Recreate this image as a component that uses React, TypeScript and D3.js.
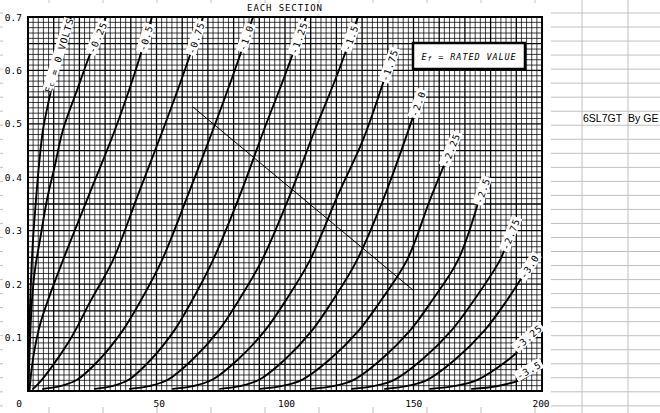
import React from 'react';
import * as d3 from 'd3';

// ---------- data (plate volts, plate mA) ----------
const xTickValues = [50, 100, 150, 200];
const yTickValues = [0.1, 0.2, 0.3, 0.4, 0.5, 0.6, 0.7];
const cornerLabel = '0';

const ec0: [number, number][] = [[0, 0], [0.19, 0.058], [0.58, 0.133], [1.17, 0.208], [1.95, 0.283], [3.11, 0.358], [4.28, 0.423], [5.84, 0.489], [8.17, 0.545], [10.89, 0.601], [13.62, 0.651], [16.73, 0.7]];
const ec025: [number, number][] = [[0.19, 0], [0.39, 0.039], [0.78, 0.096], [1.56, 0.17], [2.72, 0.227], [4.67, 0.283], [7.39, 0.358], [10.51, 0.423], [13.62, 0.489], [19.07, 0.563], [24.51, 0.635], [30.35, 0.7]];
const ec050: [number, number][] = [[0.58, 0], [1.36, 0.039], [2.53, 0.077], [4.67, 0.124], [7.78, 0.17], [13.62, 0.245], [23.74, 0.367], [33.85, 0.489], [41.25, 0.591], [48.25, 0.7]];
const ec075: [number, number][] = [[1.95, 0.004], [3.89, 0.013], [6.23, 0.026], [16.34, 0.096], [24.51, 0.17], [33.07, 0.245], [42.8, 0.367], [52.53, 0.489], [60.31, 0.591], [68.09, 0.7]];
const ec100: [number, number][] = [[5.84, 0.004], [12.45, 0.009], [19.07, 0.021], [27.63, 0.058], [36.96, 0.114], [43.97, 0.17], [52.14, 0.245], [62.26, 0.367], [71.98, 0.489], [79.77, 0.591], [87.55, 0.7]];
const ec125: [number, number][] = [[26.07, 0.004], [32.65, 0.009], [39.18, 0.021], [47.67, 0.058], [57.0, 0.114], [63.89, 0.17], [71.98, 0.245], [82.49, 0.367], [91.83, 0.489], [100.0, 0.591], [108.17, 0.7]];
const ec150: [number, number][] = [[39.69, 0.004], [47.04, 0.009], [54.4, 0.021], [63.81, 0.058], [74.32, 0.114], [82.02, 0.17], [91.05, 0.245], [101.95, 0.367], [111.67, 0.489], [120.23, 0.591], [128.4, 0.7]];
const ec175: [number, number][] = [[56.42, 0.004], [64.05, 0.009], [71.67, 0.021], [81.48, 0.058], [92.33, 0.114], [100.35, 0.17], [109.73, 0.245], [120.62, 0.367], [130.35, 0.47], [138.52, 0.582]];
const ec200: [number, number][] = [[74.71, 0.004], [82.33, 0.009], [89.96, 0.021], [99.77, 0.058], [110.62, 0.114], [118.64, 0.17], [128.02, 0.245], [138.91, 0.367], [149.81, 0.513]];
const ec225: [number, number][] = [[90.27, 0.004], [98.44, 0.009], [106.61, 0.021], [117.16, 0.058], [128.83, 0.114], [137.39, 0.17], [147.47, 0.245], [156.42, 0.358], [162.26, 0.427]];
const ec250: [number, number][] = [[110.51, 0.004], [118.64, 0.009], [126.77, 0.021], [137.2, 0.058], [148.79, 0.114], [157.32, 0.17], [167.32, 0.245], [175.1, 0.352]];
const ec275: [number, number][] = [[126.07, 0.004], [134.32, 0.009], [142.53, 0.021], [153.15, 0.058], [164.9, 0.114], [173.54, 0.17], [183.66, 0.245], [185.99, 0.273]];
const ec300: [number, number][] = [[138.91, 0.004], [147.16, 0.009], [155.37, 0.021], [165.99, 0.058], [177.74, 0.114], [186.38, 0.17], [192.22, 0.213]];
const ec325: [number, number][] = [[156.42, 0.004], [165.64, 0.009], [174.9, 0.021], [186.77, 0.058], [193.39, 0.086], [200, 0.114]];
const ec350: [number, number][] = [[172.76, 0.004], [182.22, 0.009], [191.67, 0.021], [197.78, 0.039], [200, 0.045]];

const curveLabels = ['0 VOLTS', '-0.25', '-0.5', '-0.75', '-1.0', '-1.25', '-1.5', '-1.75', '-2.0', '-2.25', '-2.5', '-2.75', '-3.0', '-3.25', '-3.5'];
const curves = [ec0, ec025, ec050, ec075, ec100, ec125, ec150, ec175, ec200, ec225, ec250, ec275, ec300, ec325, ec350];
// label centre offset along the curve end (px) and sideways (px)
const labelAlong = [-40, -22, -22, -22, -22, -22, -22, 16, 14, 15, 13, 12, 13, -15, -13];
const labelSide = [1, 0, 0, 0, 0, 0, 0, 0, 0, 0, 0, 0, 0, 4, 4];

const loadLineV = [64.2, 149.8];
const loadLineI = [0.5315, 0.189];

const titleText = 'EACH SECTION';
const noteLabel = ['6SL7GT', 'By GE'];

// spreadsheet layout
const sheetCols = [49, 103, 157, 211, 265, 319, 373, 427, 481, 535, 582, 628];

export default function App() {
  const xP = d3.scaleLinear().domain([0, 200]).range([28, 542]);
  const yP = d3.scaleLinear().domain([0, 0.7]).range([391, 17]);
  const xA = d3.scaleLinear().domain([0, 200]).range([32, 541]);
  const line = d3
    .line<[number, number]>()
    .x((d) => xP(d[0]))
    .y((d) => yP(d[1]))
    .curve(d3.curveCatmullRom.alpha(0.5));

  const vLines = d3.range(0, 101).map((i) => i * 2);
  const iLines = d3.range(0, 71).map((i) => i / 100);
  const rows = d3.range(0, 30).map((k) => 13 + k * 14.03);

  const mono = "'DejaVu Sans Mono', monospace";

  const labels = curves.map((c, i) => {
    const p1 = [xP(c[c.length - 1][0]), yP(c[c.length - 1][1])];
    const p0 = [xP(c[c.length - 2][0]), yP(c[c.length - 2][1])];
    const dx = p1[0] - p0[0];
    const dy = p1[1] - p0[1];
    const len = Math.hypot(dx, dy);
    const ux = dx / len;
    const uy = dy / len;
    // text "up" direction (perpendicular)
    const nx = uy;
    const ny = -ux;
    const cx = p1[0] + ux * labelAlong[i] + nx * labelSide[i];
    const cy = p1[1] + uy * labelAlong[i] + ny * labelSide[i];
    const ang = (Math.atan2(uy, ux) * 180) / Math.PI;
    return { cx, cy, ang, text: curveLabels[i] };
  });

  return (
    <svg width={660} height={413} style={{ display: 'block', position: 'absolute', left: 0, top: 0 }}>
      <rect x={0} y={0} width={660} height={413} fill="#fff" />
      {rows.map((y, i) => (
        <line key={'r' + i} x1={0} x2={660} y1={y} y2={y} stroke="#c0c0c0" strokeWidth={1} />
      ))}
      {sheetCols.map((x, i) => (
        <line key={'c' + i} x1={x} x2={x} y1={0} y2={413} stroke="#c0c0c0" strokeWidth={1} />
      ))}
      <rect x={3} y={3} width={548} height={404} fill="#fff" />

      {/* graph paper */}
      <g>
        {vLines.map((v, i) => (
          <line
            key={'v' + i}
            x1={xP(v)}
            x2={xP(v)}
            y1={yP(0)}
            y2={yP(0.7)}
            stroke="#000"
            strokeWidth={i % 5 === 0 ? 1.3 : 0.75}
          />
        ))}
        {iLines.map((v, i) => (
          <line
            key={'h' + i}
            x1={xP(0)}
            x2={xP(200)}
            y1={yP(v)}
            y2={yP(v)}
            stroke="#000"
            strokeWidth={i % 5 === 0 ? 1.3 : 0.75}
          />
        ))}
        <rect x={xP(0)} y={yP(0.7)} width={xP(200) - xP(0)} height={yP(0) - yP(0.7)} fill="none" stroke="#000" strokeWidth={2} />
      </g>

      {/* load line */}
      <line x1={xP(loadLineV[0])} y1={yP(loadLineI[0])} x2={xP(loadLineV[1])} y2={yP(loadLineI[1])} stroke="#000" strokeWidth={1} />

      {/* curves */}
      {curves.map((c, i) => (
        <path key={'p' + i} d={line(c) || ''} fill="none" stroke="#000" strokeWidth={1.9} strokeLinecap="round" />
      ))}

      {/* curve labels */}
      {labels.map((l, i) => {
        const w = i === 0 ? 76 : l.text.length * 6.6 + 3;
        return (
          <g key={'l' + i} transform={`translate(${l.cx},${l.cy}) rotate(${l.ang})`}>
            <rect x={-w / 2} y={-5.5} width={w} height={11} fill="#fff" />
            <text
              x={0}
              y={0.5}
              textAnchor="middle"
              dominantBaseline="central"
              fontFamily={mono}
              fontSize={9.5}
              letterSpacing={0.9}
              fill="#000"
            >
              {i === 0 ? (
                <>
                  <tspan>E</tspan>
                  <tspan dy={2} fontSize={7}>c</tspan>
                  <tspan dy={-2}> = 0 VOLTS</tspan>
                </>
              ) : (
                l.text
              )}
            </text>
          </g>
        );
      })}

      {/* legend box */}
      <rect x={413} y={43} width={112} height={26} fill="#fff" stroke="#000" strokeWidth={2.5} />
      <text x={469} y={57} textAnchor="middle" dominantBaseline="central" fontFamily={mono} fontStyle="italic" fontSize={8.5} letterSpacing={0.9} fill="#000">
        <tspan>E</tspan>
        <tspan dy={2} fontSize={6.5}>f</tspan>
        <tspan dy={-2}> = RATED VALUE</tspan>
      </text>

      {/* title */}
      <text x={285} y={8} textAnchor="middle" dominantBaseline="central" fontFamily={mono} fontSize={9} letterSpacing={0.9} fill="#000">
        {titleText}
      </text>

      {/* axis labels */}
      {yTickValues.map((v) => (
        <text key={'yt' + v} x={22} y={yP(v)} textAnchor="end" dominantBaseline="central" fontFamily={mono} fontSize={9.5} fill="#000">
          {d3.format('.1f')(v)}
        </text>
      ))}
      <text x={22} y={403} textAnchor="end" dominantBaseline="central" fontFamily={mono} fontSize={9.5} fill="#000">
        {cornerLabel}
      </text>
      {xTickValues.map((v) => (
        <text key={'xt' + v} x={xA(v)} y={403} textAnchor="middle" dominantBaseline="central" fontFamily={mono} fontSize={9.5} fill="#000">
          {v}
        </text>
      ))}

      <text x={583} y={118} dominantBaseline="central" fontFamily="'Liberation Sans', Arial, sans-serif" fontSize={10.5} fill="#000">
        {noteLabel[0]}
        <tspan dx={6}>{noteLabel[1]}</tspan>
      </text>
    </svg>
  );
}
